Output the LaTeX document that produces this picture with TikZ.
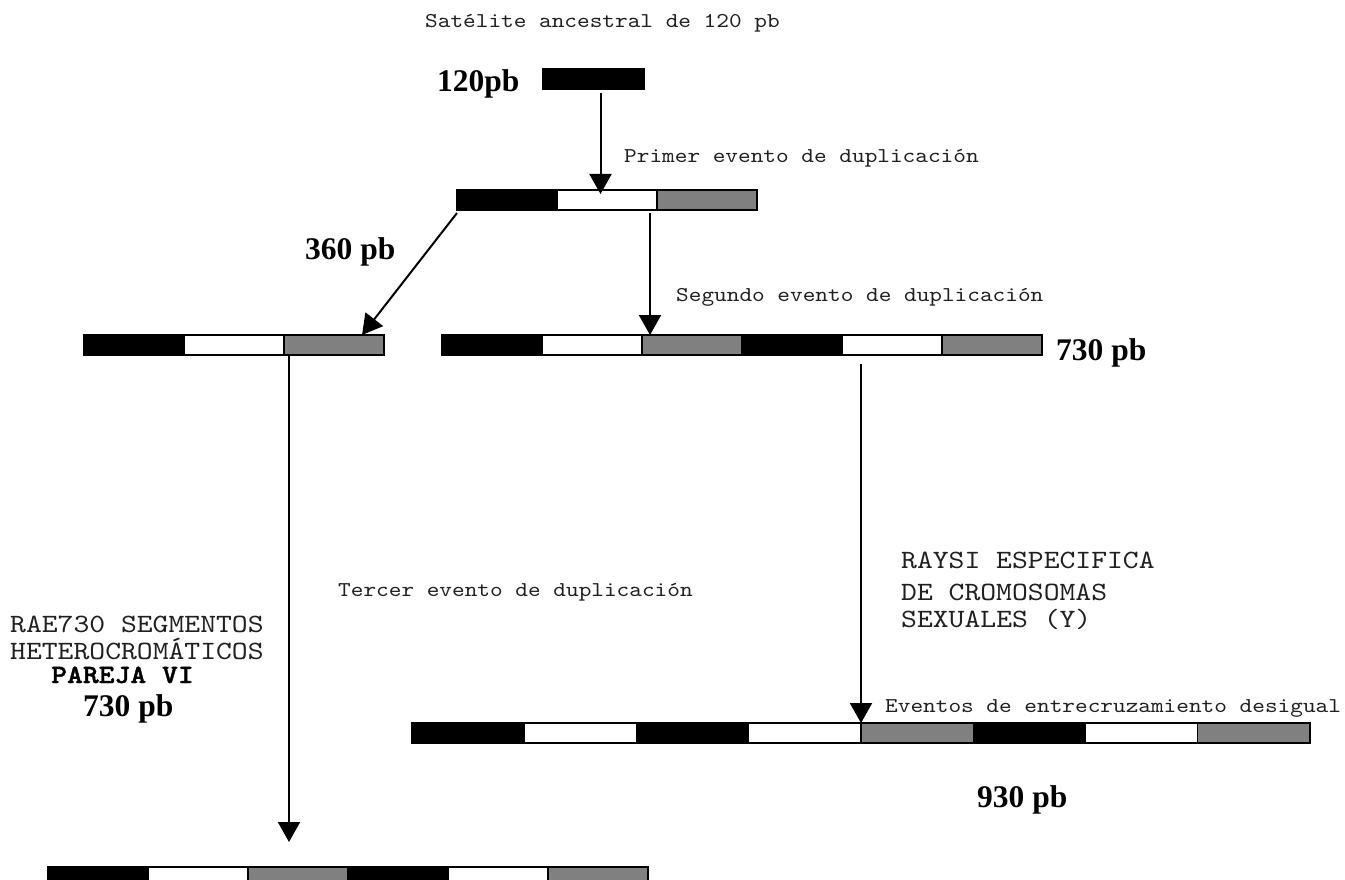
\documentclass[tikz,border=0pt]{standalone}
\usepackage{fontspec}
\setmainfont{Liberation Serif}
\newfontfamily\cmono{lmmono10-regular.otf}[FakeStretch=1.143, BoldFont=lmmonolt10-bold.otf, BoldFeatures={FakeBold=1.5}]
\usetikzlibrary{arrows.meta}
\definecolor{segGray}{HTML}{808080}
\definecolor{txtGray}{HTML}{202020}
\tikzset{
  seg/.style={draw=black, line width=1.2pt, minimum height=20pt, minimum width=100pt,
              inner sep=0pt, outer sep=0pt, anchor=north west},
  blk/.style={seg, fill=black},
  wht/.style={seg, fill=white},
  gry/.style={seg, fill=segGray},
  arr/.style={line width=2pt, -{Triangle[length=20pt,width=22pt]}},
  mono/.style={font=\fontsize{21.1}{25}\selectfont\cmono, text=txtGray, anchor=base west, inner sep=0pt},
  bigmono/.style={font=\fontsize{26.4}{30}\selectfont\cmono, text=txtGray, anchor=base west, inner sep=0pt},
  bigmonob/.style={font=\fontsize{26.4}{30}\selectfont\cmono\bfseries, anchor=base west, inner sep=0pt},
  lbl/.style={font=\fontsize{31.5}{36}\selectfont\bfseries, anchor=base west, inner sep=0pt},
}
\begin{document}
\begin{tikzpicture}[x=1pt,y=-1pt]
\useasboundingbox (0,0) rectangle (1345,880);
\fill[white] (0,0) rectangle (1345,880);

% top single bar
\node[blk, minimum width=101pt] (T) at (543,69) {};
% second bar
\node[blk] (B2a) at (457,190) {};
\node[wht] (B2b) at (557,190) {};
\node[gry] (B2c) at (657,190) {};
% left bar
\node[blk] (L1) at (84,335) {};
\node[wht] (L2) at (184,335) {};
\node[gry] (L3) at (284,335) {};
% right bar
\node[blk] (R1) at (442,335) {};
\node[wht] (R2) at (542,335) {};
\node[gry] (R3) at (642,335) {};
\node[blk] (R4) at (742,335) {};
\node[wht] (R5) at (842,335) {};
\node[gry] (R6) at (942,335) {};
% lower right bar
\node[blk, minimum width=112.25pt] (E1) at (412,723) {};
\node[wht, minimum width=112.25pt] (E2) at (524.25,723) {};
\node[blk, minimum width=112.25pt] (E3) at (636.5,723) {};
\node[wht, minimum width=112.25pt] (E4) at (748.75,723) {};
\node[gry, minimum width=112.25pt] (E5) at (861,723) {};
\node[blk, minimum width=112.25pt] (E6) at (973.25,723) {};
\node[wht, minimum width=112.25pt] (E7) at (1085.5,723) {};
\node[gry, minimum width=112.25pt] (E8) at (1197.75,723) {};
% bottom bar
\node[blk] (F1) at (48,867) {};
\node[wht] (F2) at (148,867) {};
\node[gry] (F3) at (248,867) {};
\node[blk] (F4) at (348,867) {};
\node[wht] (F5) at (448,867) {};
\node[gry] (F6) at (548,867) {};

% arrows
\draw[arr] ([xshift=7pt,yshift=-4pt]T.south) -- ([xshift=7pt,yshift=-4pt]T.south |- B2b.north);
\draw[arr] ([yshift=-3pt]B2a.south west) -- ([xshift=-22pt]L3.north east);
\draw[arr] ([xshift=-7pt,yshift=-3pt]B2c.south west) -- ([xshift=-7pt]B2c.south west |- R3.north);
\coordinate (c4) at (289,842);
\draw[arr] (L3.south west -| c4) -- (c4);
\draw[arr] ([yshift=-9pt]R5.south west -| E5.north west) -- (E5.north west);

% texts
\node[mono] (t0) at (425,28) {Satélite ancestral de 120 pb};
\node[lbl] (l120) at (437,92) {120pb};
\node[mono] (t1) at (624,163) {Primer evento de duplicación};
\node[lbl] (l360) at (305,259) {360 pb};
\node[mono] (t2) at (676,301) {Segundo evento de duplicación};
\node[lbl] (l730r) at (1056,360) {730 pb};
\node[mono] (t3) at (338,596) {Tercer evento de duplicación};
\node[bigmono] (y1) at (901,568) {RAYSI ESPECIFICA};
\node[bigmono] (y2) at (901,600) {DE CROMOSOMAS};
\node[bigmono] (y3) at (901,627) {SEXUALES (Y)};
\node[bigmono] (r1) at (10,632) {RAE730 SEGMENTOS};
\node[bigmono] (r2) at (10,659) {HETEROCROMÁTICOS};
\node[bigmonob] (r3) at (51,683) {PAREJA VI};
\node[lbl] (l730l) at (83,716) {730 pb};
\node[mono] (t4) at (885,712) {Eventos de entrecruzamiento desigual};
\node[lbl] (l930) at (977,807) {930 pb};
\end{tikzpicture}
\end{document}
